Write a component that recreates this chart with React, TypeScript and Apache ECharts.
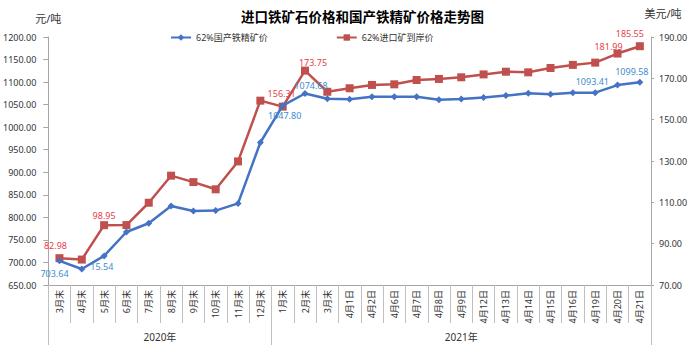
import React, { useEffect, useRef } from "react";
import * as echarts from "echarts";

const categories = [
  "3月末", "4月末", "5月末", "6月末", "7月末", "8月末", "9月末", "10月末", "11月末", "12月末",
  "1月末", "2月末", "3月末", "4月1日", "4月2日", "4月6日", "4月7日", "4月8日", "4月9日",
  "4月12日", "4月13日", "4月14日", "4月15日", "4月16日", "4月19日", "4月20日", "4月21日",
];
const yearLabels = ["2020年", "2021年"];
const yearSizes = [10, 17];

const domesticName = "62%国产铁精矿价";
const importName = "62%进口矿到岸价";

const domestic = [
  703.64, 685.54, 714.5, 767.5, 787.0, 825.0, 814.0, 815.0, 831.0, 966.0,
  1047.8, 1074.68, 1063.0, 1062.0, 1067.5, 1067.5, 1067.5, 1061.0, 1062.5,
  1066.0, 1070.0, 1075.0, 1073.0, 1076.5, 1076.5, 1093.41, 1099.58,
];
const imported = [
  82.98, 82.3, 98.95, 99.0, 109.8, 122.9, 119.8, 116.3, 129.8, 159.2,
  156.31, 173.75, 163.5, 165.2, 166.8, 167.1, 169.2, 169.7, 170.5,
  171.9, 173.2, 172.9, 175.0, 176.5, 177.6, 181.99, 185.55,
];

const leftTicks = { min: 650, max: 1200, interval: 50 };
const rightTicks = { min: 70, max: 190, interval: 20 };

// label placement per point (style only)
const domesticLabels: Record<number, any> = {
  0: { position: "bottom", offset: [-5, 0] },
  1: { position: "right", offset: [0, -2], text: "15.54" },
  10: { position: "bottom", offset: [2, -3] },
  11: { position: "top", offset: [6, 5] },
  25: { position: "left", offset: [0, -4] },
  26: { position: "top", offset: [-8, 2] },
};
const importedLabels: Record<number, any> = {
  0: { position: "top", offset: [-4, 1] },
  2: { position: "top", offset: [0, 4] },
  10: { position: "top", offset: [-1, 0] },
  11: { position: "top", offset: [8, 5] },
  25: { position: "top", offset: [-9, 6] },
  26: { position: "top", offset: [-10, 1] },
};

const BLUE = "#4472C4";
const BLUE_LABEL = "#3D8BD0";
const RED = "#C0504D";
const RED_LABEL = "#E8404A";
const FONT = "'Noto Sans', 'Noto Sans CJK SC', sans-serif";
const AXIS_GRAY = "#A6A6A6";

function buildData(values: number[], labels: Record<number, any>, color: string) {
  return values.map((v, i) => {
    const l = labels[i];
    if (!l) return v;
    return {
      value: v,
      label: {
        show: true,
        position: l.position,
        offset: l.offset,
        color,
        fontSize: 9,
        fontFamily: FONT,
        formatter: () => (l.text ? l.text : v.toFixed(2)),
      },
    };
  });
}

export default function App() {
  const ref = useRef<HTMLDivElement>(null);
  useEffect(() => {
    if (!ref.current) return;
    const chart = echarts.init(ref.current, undefined, { renderer: "svg" });

    // year group positions
    const groupStarts: number[] = [];
    const yearAt: Record<number, { text: string; half: boolean }> = {};
    let s = 0;
    yearSizes.forEach((n, gi) => {
      groupStarts.push(s);
      const mid = s + n / 2 - 0.5;
      const idx = Math.floor(mid);
      yearAt[idx] = { text: yearLabels[gi], half: mid !== idx };
      s += n;
    });

    chart.setOption({
      animation: false,
      title: {
        text: "进口铁矿石价格和国产铁精矿价格走势图",
        left: 236,
        top: 4,
        textStyle: { fontSize: 13.5, fontWeight: "bold", color: "#000", fontFamily: "'Noto Sans CJK SC', sans-serif" },
      },
      legend: {
        left: 165,
        top: 28,
        itemWidth: 20,
        itemHeight: 8,
        itemGap: 68,
        textStyle: { fontSize: 9, color: "#333", fontFamily: FONT },
        data: [domesticName, importName],
      },
      grid: { left: 48, right: 47, top: 37, bottom: 68 },
      xAxis: [
        {
          type: "category",
          data: categories,
          boundaryGap: true,
          axisLine: { lineStyle: { color: AXIS_GRAY } },
          axisTick: { show: true, interval: 0, length: 38, lineStyle: { color: "#BFBFBF" } },
          axisLabel: { interval: 0, rotate: 90, margin: 5, fontSize: 9, color: "#333", fontFamily: FONT },
        },
        {
          type: "category",
          data: categories,
          boundaryGap: true,
          position: "bottom",
          axisLine: { show: false },
          axisTick: {
            show: true,
            length: 60,
            interval: (i: number) => groupStarts.indexOf(i) >= 0,
            lineStyle: { color: "#BFBFBF" },
          },
          axisLabel: {
            interval: 0,
            margin: 47,
            fontSize: 10,
            color: "#333",
            fontFamily: FONT,
            formatter: (_v: string, i: number) => {
              const y = yearAt[i];
              if (!y) return "";
              return y.half ? "{h|" + y.text + "}" : y.text;
            },
            rich: { h: { padding: [0, 0, 0, 22.3], fontSize: 10, color: "#333", fontFamily: FONT } },
          },
        },
      ],
      yAxis: [
        {
          type: "value",
          min: leftTicks.min,
          max: leftTicks.max,
          interval: leftTicks.interval,
          name: "元/吨",
          nameGap: 13,
          nameTextStyle: { fontSize: 11, color: "#333", fontFamily: FONT },
          axisLine: { show: true, lineStyle: { color: AXIS_GRAY } },
          axisTick: { show: true, length: 5, lineStyle: { color: AXIS_GRAY } },
          splitLine: { show: false },
          axisLabel: { margin: 12, fontSize: 9, color: "#333", fontFamily: FONT, formatter: (v: number) => v.toFixed(2) },
        },
        {
          type: "value",
          position: "right",
          min: rightTicks.min,
          max: rightTicks.max,
          interval: rightTicks.interval,
          name: "美元/吨",
          nameGap: 18,
          nameTextStyle: { fontSize: 11, color: "#333", fontFamily: FONT, padding: [0, 0, 0, 24] },
          axisLine: { show: true, lineStyle: { color: AXIS_GRAY } },
          axisTick: { show: true, length: 3, lineStyle: { color: AXIS_GRAY } },
          splitLine: { show: false },
          axisLabel: { margin: 8, fontSize: 9, color: "#333", fontFamily: FONT, formatter: (v: number) => v.toFixed(2) },
        },
      ],
      series: [
        {
          name: domesticName,
          type: "line",
          xAxisIndex: 0,
          yAxisIndex: 0,
          data: buildData(domestic, domesticLabels, BLUE_LABEL),
          symbol: "diamond",
          symbolSize: 7,
          lineStyle: { color: BLUE, width: 2.5 },
          itemStyle: { color: BLUE },
          z: 3,
        },
        {
          name: importName,
          type: "line",
          xAxisIndex: 0,
          yAxisIndex: 1,
          data: buildData(imported, importedLabels, RED_LABEL),
          symbol: "rect",
          symbolSize: 8,
          lineStyle: { color: RED, width: 2.5 },
          itemStyle: { color: RED },
          z: 2,
        },
      ],
    });
    return () => chart.dispose();
  }, []);
  return (
    <div
      ref={ref}
      style={{ position: "fixed", left: 0, top: 0, width: 698, height: 353, background: "#fff" }}
    />
  );
}
